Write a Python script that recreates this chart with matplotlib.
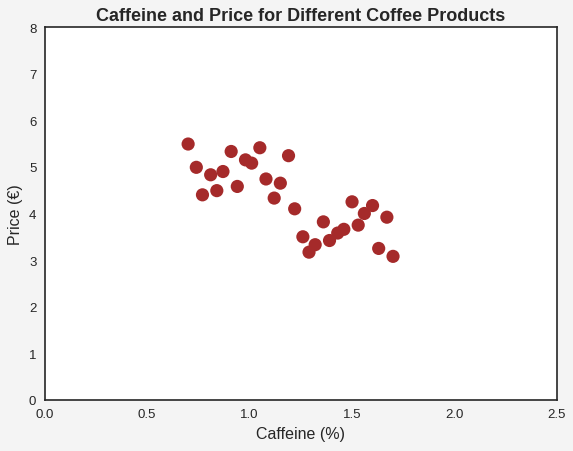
import matplotlib
matplotlib.use("Agg")
import matplotlib.pyplot as plt

plt.rcParams['font.family'] = ['Liberation Sans', 'DejaVu Sans']

# Caffeine content (%) and price (EUR) of each coffee product
caffeine = [0.70, 0.74, 0.77, 0.81, 0.84, 0.87, 0.91, 0.94, 0.98, 1.01,
            1.05, 1.08, 1.12, 1.15, 1.19, 1.22, 1.26, 1.29, 1.32, 1.36,
            1.39, 1.43, 1.46, 1.50, 1.53, 1.56, 1.60, 1.63, 1.67, 1.70]
price = [5.49, 4.99, 4.40, 4.83, 4.49, 4.90, 5.33, 4.58, 5.15, 5.08,
         5.41, 4.74, 4.33, 4.65, 5.24, 4.10, 3.50, 3.17, 3.33, 3.82,
         3.42, 3.58, 3.66, 4.25, 3.75, 4.00, 4.17, 3.25, 3.92, 3.08]

fig, ax = plt.subplots(figsize=(5.73, 4.52), dpi=100)
fig.patch.set_facecolor("#f4f4f4")
ax.set_facecolor("white")

ax.scatter(caffeine, price, s=90, color="#a52a2a", edgecolors="none", zorder=3)

ax.set_xlim(0, 2.5)
ax.set_ylim(0, 8)
ax.set_xticks([0.0, 0.5, 1.0, 1.5, 2.0, 2.5])
ax.set_xticklabels(["0.0", "0.5", "1.0", "1.5", "2.0", "2.5"])
ax.set_yticks(range(0, 9))
ax.tick_params(length=0, labelsize=9.5, colors="#262626", pad=6)
for spine in ax.spines.values():
    spine.set_color("#262626")
    spine.set_linewidth(1.2)

ax.set_title("Caffeine and Price for Different Coffee Products",
             fontsize=13, fontweight="bold", color="#262626", pad=5)
ax.set_xlabel("Caffeine (%)", fontsize=11.5, color="#262626")
ax.set_ylabel("Price (€)", fontsize=11.5, color="#262626")

fig.subplots_adjust(left=0.078, right=0.972, top=0.938, bottom=0.113)
fig.savefig("out.png", dpi=100, facecolor=fig.get_facecolor())
